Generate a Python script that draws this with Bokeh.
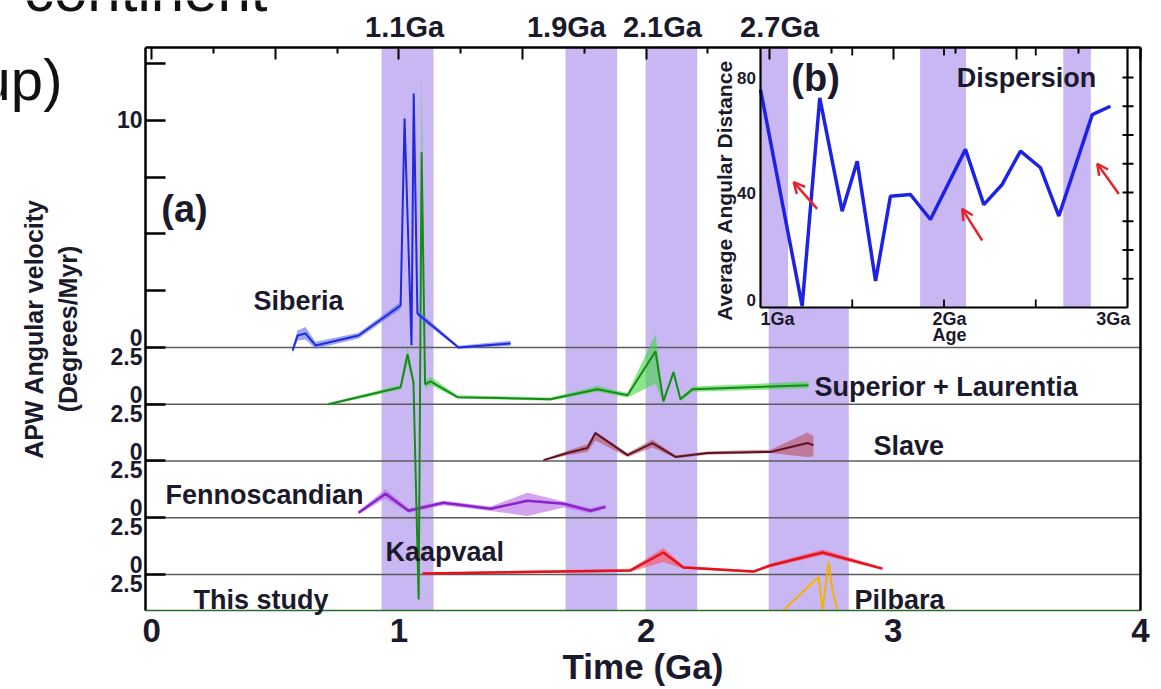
import numpy as np
from bokeh.plotting import figure
from bokeh.models import Range1d, LinearAxis, FixedTicker, Label, Arrow, OpenHead
from bokeh.embed import file_html
from bokeh.resources import INLINE

# ---------------------------------------------------------------- data
# shaded event windows (Ga) and their captions
event_names = ["1.1Ga", "1.9Ga", "2.1Ga", "2.7Ga"]
event_caption_x = [1.023, 1.678, 2.066, 2.540]
event_start = [0.930, 1.674, 1.998, 2.496]
event_end = [1.140, 1.883, 2.207, 2.820]

# APW angular velocity (degrees/Myr): age (Ga), median, lower, upper
siberia_age = [0.570, 0.590, 0.622, 0.663, 0.837, 1.007, 1.023, 1.051, 1.060, 1.075, 1.241, 1.452]
siberia_v = [-0.13, 0.53, 0.62, 0.09, 0.53, 1.85, 10.09, 0.10, 11.19, 1.50, 0.00, 0.18]
siberia_lo = [-0.25, 0.30, 0.35, -0.05, 0.40, 1.70, 9.60, 0.00, 10.70, 1.35, -0.05, 0.08]
siberia_hi = [0.00, 0.75, 0.90, 0.25, 0.65, 2.00, 10.40, 0.25, 11.50, 1.65, 0.08, 0.30]

superior_age = [0.715, 1.007, 1.035, 1.059, 1.080, 1.092, 1.106, 1.128, 1.237, 1.613, 1.803,
                1.925, 2.038, 2.070, 2.111, 2.139, 2.188, 2.657]
superior_v = [0.00, 0.75, 2.20, 0.97, -8.60, 11.10, 0.88, 1.01, 0.31, 0.22, 0.66,
              0.40, 2.33, 0.13, 1.41, 0.22, 0.66, 0.84]
superior_lo = [-0.05, 0.65, 1.80, 0.80, -8.60, 9.50, 0.70, 0.85, 0.25, 0.15, 0.55,
               0.30, 0.90, 0.05, 1.25, 0.12, 0.55, 0.70]
superior_hi = [0.05, 0.85, 2.50, 1.10, -8.40, 14.67, 1.05, 1.20, 0.40, 0.30, 0.80,
               0.50, 3.10, 0.25, 1.55, 0.32, 0.78, 1.00]

slave_age = [1.585, 1.682, 1.763, 1.795, 1.925, 2.026, 2.119, 2.248, 2.503, 2.653, 2.677]
slave_v = [0.04, 0.35, 0.57, 1.23, 0.26, 0.79, 0.18, 0.35, 0.40, 0.79, 0.70]
slave_lo = [0.00, 0.25, 0.40, 0.90, 0.18, 0.60, 0.12, 0.28, 0.35, 0.18, 0.20]
slave_hi = [0.08, 0.45, 0.75, 1.30, 0.35, 0.95, 0.25, 0.42, 0.50, 1.25, 1.10]

fenno_age = [0.837, 0.946, 1.039, 1.180, 1.371, 1.520, 1.666, 1.775, 1.836]
fenno_v = [0.22, 1.06, 0.31, 0.66, 0.40, 0.75, 0.62, 0.31, 0.48]
fenno_lo = [0.15, 0.85, 0.22, 0.55, 0.30, 0.08, 0.45, 0.20, 0.40]
fenno_hi = [0.30, 1.25, 0.42, 0.75, 0.50, 1.10, 0.72, 0.42, 0.58]

kaapvaal_age = [1.096, 1.937, 2.070, 2.151, 2.435, 2.503, 2.714, 2.956]
kaapvaal_v = [0.04, 0.18, 0.97, 0.31, 0.13, 0.40, 0.97, 0.26]
kaapvaal_lo = [0.00, 0.12, 0.55, 0.25, 0.08, 0.32, 0.85, 0.20]
kaapvaal_hi = [0.08, 0.25, 1.17, 0.38, 0.18, 0.48, 1.10, 0.32]

# Pilbara, visible part above the time axis
pilbara_age = [2.556, 2.697, 2.714, 2.738, 2.754, 2.774]
pilbara_v = [0.93, 2.38, 0.93, 3.04, 1.81, 0.93]
pilbara_lo = [0.93, 2.25, 0.93, 2.90, 1.70, 0.93]
pilbara_hi = [0.98, 2.45, 1.00, 3.10, 1.90, 1.00]

# inset (b): average angular distance between poles vs age
dispersion_age = [1.000, 1.227, 1.323, 1.445, 1.527, 1.627, 1.708, 1.817, 1.926,
                  2.117, 2.217, 2.317, 2.417, 2.526, 2.626, 2.808, 2.907]
dispersion_dist = [75.8, 0.5, 72.9, 33.5, 50.9, 9.2, 38.7, 39.3, 30.6,
                   55.0, 35.8, 42.8, 54.4, 48.6, 31.8, 67.1, 70.0]
inset_band_start = [1.00, 1.87, 2.65]
inset_band_end = [1.15, 2.12, 2.80]
# arrows marking dispersal onsets: (x_tail, y_tail, x_head, y_head)
dispersal_arrows = [(1.309, 34.3, 1.181, 43.6),
                    (2.208, 23.3, 2.099, 34.3),
                    (2.953, 39.5, 2.835, 50.0)]

# ---------------------------------------------------------------- layout / styling
FONT = "Liberation Sans"
INK = "#1b1a2c"
BAND = "#c9b7f4"
RED = "#e4262c"

W, H = 1161, 689
# panel (a) axes: extent in data units and where they sit on the canvas (px)
AX_X = (-0.025, 4.0)
AX_Y = (0.914, 25.714)
AX_LEFT_PX, AX_BOTTOM_PX = 145, 610
PX_PER_GA = 247.2
PX_PER_UNIT = 22.7

# the plotting frame spans the whole canvas; axes are pinned at fixed locations
x_full = (AX_X[0] - AX_LEFT_PX / PX_PER_GA, AX_X[0] + (W - AX_LEFT_PX) / PX_PER_GA)
y_full = (AX_Y[0] - (H - AX_BOTTOM_PX) / PX_PER_UNIT, AX_Y[0] + AX_BOTTOM_PX / PX_PER_UNIT)

base = {"This study": 0.0, "Kaapvaal": 2.5, "Fennoscandian": 5.0,
        "Slave": 7.5, "Superior + Laurentia": 10.0, "Siberia": 12.5}

p = figure(width=W, height=H, x_range=Range1d(*x_full), y_range=Range1d(*y_full),
           output_backend="svg", toolbar_location=None, min_border=0,
           x_axis_location=None, y_axis_location=None)
p.title.visible = False
p.outline_line_color = None
p.grid.visible = False
p.background_fill_color = "white"
p.border_fill_color = "white"

# event windows
p.quad(left=event_start, right=event_end, bottom=AX_Y[0], top=AX_Y[1],
       fill_color=BAND, line_color=None)

# strip baselines
strip_lines = [base["Kaapvaal"], base["Fennoscandian"], base["Slave"],
               base["Superior + Laurentia"], base["Siberia"]]
p.segment(x0=[AX_X[0]] * 5, x1=[AX_X[1]] * 5, y0=strip_lines, y1=strip_lines,
          line_color="#5c5c5c", line_width=1.6)


def draw_series(age, v, lo, hi, offset, line_color, fill_color, lw=2.0, alpha=0.6):
    off = float(offset)
    p.varea(x=age, y1=np.asarray(lo) + off, y2=np.asarray(hi) + off,
            fill_color=fill_color, fill_alpha=alpha)
    p.line(age, np.asarray(v) + off, line_color=line_color, line_width=lw)


draw_series(pilbara_age, pilbara_v, pilbara_lo, pilbara_hi, base["This study"], "#f2b200", "#f3c98a", 2.0, 0.8)
draw_series(kaapvaal_age, kaapvaal_v, kaapvaal_lo, kaapvaal_hi, base["Kaapvaal"], "#e3121d", "#ff4d5a", 2.5)
draw_series(fenno_age, fenno_v, fenno_lo, fenno_hi, base["Fennoscandian"], "#8b22c9", "#b565e6", 2.5)
draw_series(slave_age, slave_v, slave_lo, slave_hi, base["Slave"], "#5e1424", "#b8505f", 2.0)
draw_series(superior_age, superior_v, superior_lo, superior_hi, base["Superior + Laurentia"], "#168c16", "#3fd63f", 2.0)
draw_series(siberia_age, siberia_v, siberia_lo, siberia_hi, base["Siberia"], "#1f2bd9", "#5b6cf0", 2.0)

# ---------------------------------------------------------------- axes
xax = LinearAxis(fixed_location=AX_Y[0], bounds=AX_X,
                 ticker=FixedTicker(ticks=[0, 1, 2, 3, 4], minor_ticks=[]),
                 major_tick_in=0, major_tick_out=0, minor_tick_in=0, minor_tick_out=0,
                 axis_line_color="#2b6e2b", axis_line_width=1.5,
                 major_label_standoff=8, major_label_text_font=FONT,
                 major_label_text_font_style="bold", major_label_text_font_size="33px",
                 major_label_text_color=INK,
                 axis_label="Time (Ga)", axis_label_standoff=2, axis_label_text_font=FONT,
                 axis_label_text_font_style="bold", axis_label_text_font_size="35px",
                 axis_label_text_color=INK)
p.add_layout(xax, "below")

ytick = [2.5, 5.0, 7.5, 10.0, 12.5, 15.0, 17.5, 20.0, 22.5, 25.0]
ylabels = {t: "0\n2.5" for t in ytick[:5]}
ylabels.update({15.0: "", 17.5: "", 20.0: "", 22.5: "10", 25.0: ""})
yax = LinearAxis(fixed_location=AX_X[0], bounds=AX_Y,
                 ticker=FixedTicker(ticks=ytick, minor_ticks=[]),
                 major_label_overrides=ylabels,
                 major_tick_in=20, major_tick_out=0, major_tick_line_width=2.5,
                 minor_tick_in=0, minor_tick_out=0,
                 axis_line_width=2.5, major_label_standoff=3,
                 major_label_text_font=FONT, major_label_text_font_style="bold",
                 major_label_text_font_size="23px", major_label_text_line_height=0.72,
                 major_label_text_color=INK,
                 axis_label="APW Angular velocity\n(Degrees/Myr)", axis_label_standoff=26,
                 axis_label_text_font=FONT, axis_label_text_font_style="bold",
                 axis_label_text_font_size="25px", axis_label_text_line_height=1.2,
                 axis_label_text_color=INK)
p.add_layout(yax, "left")

top_ticks = [0.5 * i for i in range(9)]
top = LinearAxis(fixed_location=AX_Y[1], bounds=AX_X,
                 ticker=FixedTicker(ticks=top_ticks, minor_ticks=[0.25 + 0.5 * i for i in range(8)]),
                 major_label_overrides={t: "" for t in top_ticks},
                 major_tick_in=12, major_tick_out=0, minor_tick_in=6, minor_tick_out=0,
                 major_tick_line_width=2, minor_tick_line_width=2, axis_line_width=2.5)
p.add_layout(top, "above")

right = LinearAxis(fixed_location=AX_X[1], bounds=AX_Y,
                   ticker=FixedTicker(ticks=[], minor_ticks=[]), axis_line_width=2.5,
                   major_tick_in=0, major_tick_out=0, minor_tick_in=0, minor_tick_out=0)
p.add_layout(right, "right")

# ---------------------------------------------------------------- inset (b)
IN_L, IN_R, IN_T, IN_B = 760, 1127, 47, 307      # inset box on the canvas, px
ga_px = 2.0 / (IN_R - IN_L)
deg_px = 40.0 / 115.0
p.extra_x_ranges = {"ix": Range1d(1.0 - IN_L * ga_px, 3.0 + (W - IN_R) * ga_px)}
p.extra_y_ranges = {"iy": Range1d(-(H - IN_B) * deg_px, IN_B * deg_px)}
in_top = (IN_B - IN_T) * deg_px
IN = dict(x_range_name="ix", y_range_name="iy")

p.quad(left=[1.0], right=[3.0], bottom=[0.0], top=[in_top], fill_color="white", line_color=None, **IN)
p.quad(left=inset_band_start, right=inset_band_end, bottom=0.0, top=in_top,
       fill_color=BAND, line_color=None, **IN)
p.line(dispersion_age, dispersion_dist, line_color="#1e22e6", line_width=3.5, **IN)

# inset frame and ticks
p.segment(x0=[1.0, 1.0, 3.0], y0=[0.0, 0.0, 0.0], x1=[1.0, 3.0, 3.0], y1=[in_top, 0.0, in_top],
          line_color="black", line_width=2.2, **IN)
tx = [1.5, 2.0, 2.5]
tick_dy = 8 * deg_px
p.segment(x0=tx, y0=[0.0] * 3, x1=tx, y1=[tick_dy] * 3, line_color="black", line_width=1.8, **IN)
p.segment(x0=tx, y0=[in_top] * 3, x1=tx, y1=[in_top - tick_dy] * 3, line_color="black", line_width=1.8, **IN)
ty = [10.0 * k for k in range(1, 9)]
p.segment(x0=[3.0 - 5 * ga_px] * 8, y0=ty, x1=[3.0 + 6 * ga_px] * 8, y1=ty,
          line_color="black", line_width=1.8, **IN)

for xt, yt, xh, yh in dispersal_arrows:
    p.add_layout(Arrow(end=OpenHead(size=11, line_color=RED, line_width=2.5),
                       x_start=xt, y_start=yt, x_end=xh, y_end=yh,
                       line_color=RED, line_width=2.5, **IN))


def label(text, x, y, size, align="center", baseline="middle", style="bold",
          angle=0.0, color=INK, **kw):
    p.add_layout(Label(x=x, y=y, text=text, text_font=FONT, text_font_size=f"{size}px",
                       text_font_style=style, text_align=align, text_baseline=baseline,
                       text_color=color, angle=angle, **kw))


label("(b)", 1.30, 79.7, 38, **IN)
label("Dispersion", 2.45, 80.0, 27, **IN)
for v, ypos in [("80", 80.0), ("40", 40.0), ("0", 2.5)]:
    label(v, 0.975, ypos, 17, align="right", **IN)
label("1Ga", 1.0, -4.0, 18, align="left", **IN)
label("2Ga", 2.03, -4.0, 18, **IN)
label("3Ga", 3.015, -4.0, 18, align="right", **IN)
label("Age", 2.03, -9.5, 18, **IN)
label("Average Angular Distance", 0.804, 40.7, 21, angle=np.pi / 2, **IN)

# ---------------------------------------------------------------- panel (a) text
label("(a)", 0.133, 18.62, 38)
label("Siberia", 0.594, 14.53, 27)
label("Superior + Laurentia", 2.681, 10.74, 27, align="left")
label("Slave", 2.920, 8.14, 27, align="left")
label("Fennoscandian", 0.056, 6.02, 27, align="left")
label("Kaapvaal", 0.946, 3.51, 27, align="left")
label("This study", 0.169, 1.36, 27, align="left")
label("Pilbara", 2.843, 1.36, 27, align="left")

for name, xc in zip(event_names, event_caption_x):
    label(name, xc, 26.6, 29)

# slide heading fragments above the chart
label("continent", 0.4685, 28.22, 60, align="right", baseline="alphabetic", style="normal", color="#111111")
label("up)", -0.361, 24.30, 58, align="right", baseline="alphabetic", style="normal", color="#111111")

open("out.html", "w").write(file_html(p, INLINE))
